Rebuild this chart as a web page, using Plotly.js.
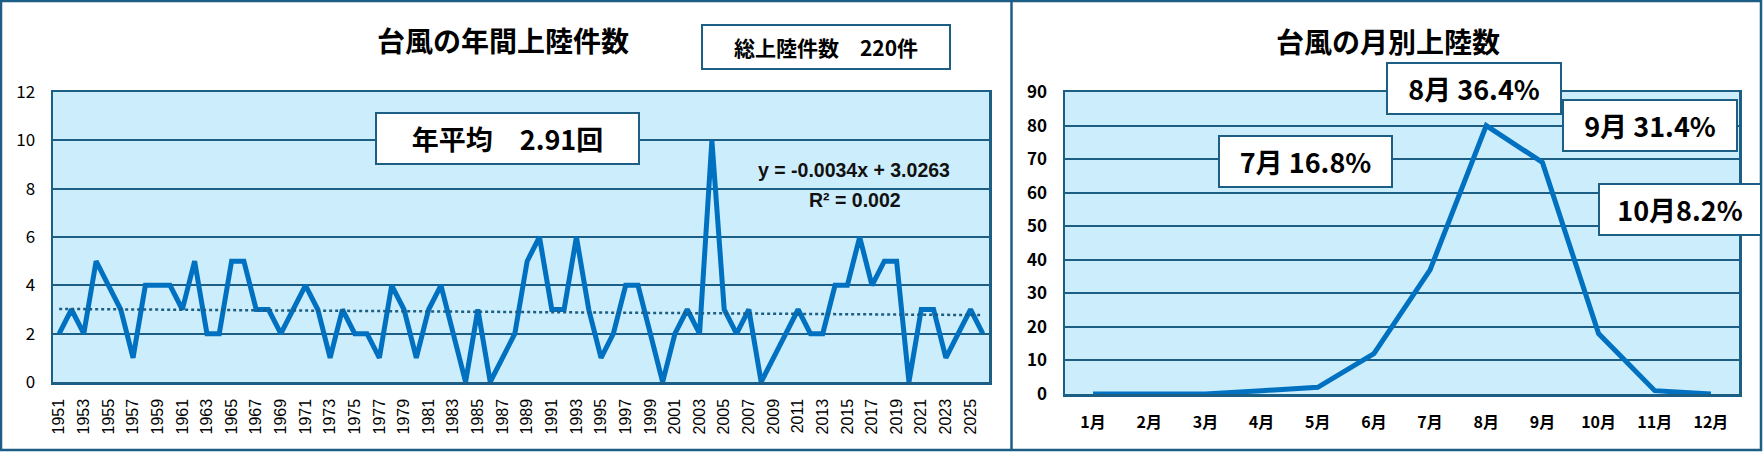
<!DOCTYPE html>
<html>
<head>
<meta charset="utf-8">
<script src="https://cdn.plot.ly/plotly-3.0.1.min.js"></script>
<style>html,body{margin:0;padding:0;background:#fff;}#chart{width:1763px;height:452px;}</style>
</head>
<body>
<div id="chart"></div>
<script>
// ---- data ----
const years = [1951,1952,1953,1954,1955,1956,1957,1958,1959,1960,
  1961,1962,1963,1964,1965,1966,1967,1968,1969,1970,
  1971,1972,1973,1974,1975,1976,1977,1978,1979,1980,
  1981,1982,1983,1984,1985,1986,1987,1988,1989,1990,
  1991,1992,1993,1994,1995,1996,1997,1998,1999,2000,
  2001,2002,2003,2004,2005,2006,2007,2008,2009,2010,
  2011,2012,2013,2014,2015,2016,2017,2018,2019,2020,
  2021,2022,2023,2024,2025,2026];
const annualLandfalls = [2,3,2,5,4,3,1,4,4,4,
  3,5,2,2,5,5,3,3,2,3,
  4,3,1,3,2,2,1,4,3,1,
  3,4,2,0,3,0,1,2,5,6,
  3,3,6,3,1,2,4,4,2,0,
  2,3,2,10,3,2,3,0,1,2,
  3,2,2,4,4,6,4,5,5,0,
  3,3,1,2,3,2];
const yearTickLabels = ["1951","1953","1955","1957","1959","1961","1963","1965","1967","1969",
  "1971","1973","1975","1977","1979","1981","1983","1985","1987","1989",
  "1991","1993","1995","1997","1999","2001","2003","2005","2007","2009",
  "2011","2013","2015","2017","2019","2021","2023","2025"];
const trendSlope = -0.0034;
const trendIntercept = 3.0263;
const months = ["1月","2月","3月","4月","5月","6月","7月","8月","9月","10月","11月","12月"];
const monthlyLandfalls = [0,0,0,1,2,12,37,80,69,18,1,0];
const leftTitle = "台風の年間上陸件数";
const rightTitle = "台風の月別上陸数";
const totalLabel = "総上陸件数　220件";
const avgLabel = "年平均　2.91回";
const eqLabel = "y = -0.0034x + 3.0263";
const r2Label = "R² = 0.002";
const monthBoxes = [
  {text:"8月 36.4%", cx:1474, cy:88.5, w:174, h:51},
  {text:"9月 31.4%", cx:1650, cy:125.5, w:174, h:51},
  {text:"7月 16.8%", cx:1305.5, cy:161.5, w:173, h:51},
  {text:"10月8.2%", cx:1680, cy:209.5, w:162, h:51}
];

// ---- geometry ----
const W = 1763, H = 452;
const px = x => x / W;
const py = y => 1 - y / H;
const DARK = "#1C5E84";
const LINE = "#0070C0";
const BG = "#CCEDFB";
const JP = "Noto Sans CJK JP";

const trendX = years;
const trendY = years.map((y, i) => trendSlope * (i + 1) + trendIntercept);

const traces = [
  {x: years, y: annualLandfalls, type: "scatter", mode: "lines", xaxis: "x", yaxis: "y",
   line: {color: LINE, width: 5}, hoverinfo: "skip"},
  {x: trendX, y: trendY, type: "scatter", mode: "lines", xaxis: "x", yaxis: "y",
   line: {color: DARK, width: 2.5, dash: "dot"}, hoverinfo: "skip"},
  {x: months, y: monthlyLandfalls, type: "scatter", mode: "lines", xaxis: "x2", yaxis: "y2",
   line: {color: LINE, width: 5}, hoverinfo: "skip"}
];

const axisCommon = {showline: true, mirror: true, linecolor: DARK, linewidth: 2.5,
  zeroline: false, ticks: "", fixedrange: true};

const annotations = [
  {text: "<b>" + leftTitle + "</b>", xref: "paper", yref: "paper", x: px(503), y: py(40),
   xanchor: "center", yanchor: "middle", showarrow: false, font: {family: JP, size: 28, color: "#000"}},
  {text: "<b>" + rightTitle + "</b>", xref: "paper", yref: "paper", x: px(1388), y: py(41),
   xanchor: "center", yanchor: "middle", showarrow: false, font: {family: JP, size: 28, color: "#000"}},
  {text: "<b>" + totalLabel + "</b>", xref: "paper", yref: "paper", x: px(826), y: py(47),
   xanchor: "center", yanchor: "middle", showarrow: false, width: 246, height: 42,
   bgcolor: "#fff", bordercolor: DARK, borderwidth: 2, borderpad: 0,
   font: {family: JP, size: 21, color: "#000"}},
  {text: "<b>" + avgLabel + "</b>", xref: "paper", yref: "paper", x: px(507.5), y: py(138.5),
   xanchor: "center", yanchor: "middle", showarrow: false, width: 261, height: 49,
   bgcolor: "#fff", bordercolor: DARK, borderwidth: 2, borderpad: 0,
   font: {family: JP, size: 27, color: "#000"}},
  {text: "<b>" + eqLabel + "</b>", xref: "paper", yref: "paper", x: px(854), y: py(170),
   xanchor: "center", yanchor: "middle", showarrow: false,
   font: {family: "Liberation Sans", size: 19.5, color: "#111"}},
  {text: "<b>" + r2Label + "</b>", xref: "paper", yref: "paper", x: px(854.5), y: py(200),
   xanchor: "center", yanchor: "middle", showarrow: false,
   font: {family: "Liberation Sans", size: 19.5, color: "#111"}}
];
monthBoxes.forEach(b => annotations.push({
  text: "<b>" + b.text + "</b>", xref: "paper", yref: "paper", x: px(b.cx), y: py(b.cy),
  xanchor: "center", yanchor: "middle", showarrow: false, width: b.w - 2, height: b.h - 2,
  bgcolor: "#fff", bordercolor: DARK, borderwidth: 2, borderpad: 0,
  font: {family: JP, size: 27, color: "#000"}
}));

const layout = {
  width: W, height: H, margin: {l: 0, r: 0, t: 0, b: 0}, showlegend: false,
  paper_bgcolor: "#fff", plot_bgcolor: BG,
  xaxis: Object.assign({}, axisCommon, {domain: [px(53), px(989)], range: [1950.5, 2026.5],
    tickmode: "array", tickvals: yearTickLabels.map(Number), ticktext: yearTickLabels,
    tickangle: -90, showgrid: false, ticklabelstandoff: 8,
    tickfont: {family: "Liberation Sans", size: 16, color: "#000"}, anchor: "y"}),
  yaxis: Object.assign({}, axisCommon, {domain: [py(382), py(92)], range: [0, 12], dtick: 2,
    showgrid: true, gridcolor: DARK, gridwidth: 2, ticklabelstandoff: 12,
    tickfont: {family: JP, size: 17, color: "#000"}, anchor: "x"}),
  xaxis2: Object.assign({}, axisCommon, {domain: [px(1065), px(1739)], type: "category",
    categoryorder: "array", categoryarray: months, range: [-0.5, 11.5], showgrid: false,
    ticklabelstandoff: 12, tickfont: {family: JP, size: 16, color: "#000", weight: "bold"}, anchor: "y2"}),
  yaxis2: Object.assign({}, axisCommon, {domain: [py(394), py(92)], range: [0, 90], dtick: 10,
    showgrid: true, gridcolor: DARK, gridwidth: 2, ticklabelstandoff: 12,
    tickfont: {family: JP, size: 17, color: "#000", weight: "bold"}, anchor: "x2"}),
  shapes: [
    {type: "rect", xref: "paper", yref: "paper", x0: px(1), x1: px(1761), y0: py(450), y1: py(1),
     line: {color: DARK, width: 2.5}, fillcolor: "rgba(0,0,0,0)", layer: "above"},
    {type: "line", xref: "paper", yref: "paper", x0: px(1011.5), x1: px(1011.5), y0: py(450), y1: py(1),
     line: {color: DARK, width: 2.5}, layer: "above"}
  ],
  annotations: annotations
};

Plotly.newPlot("chart", traces, layout, {staticPlot: true, displayModeBar: false});
</script>
</body>
</html>
